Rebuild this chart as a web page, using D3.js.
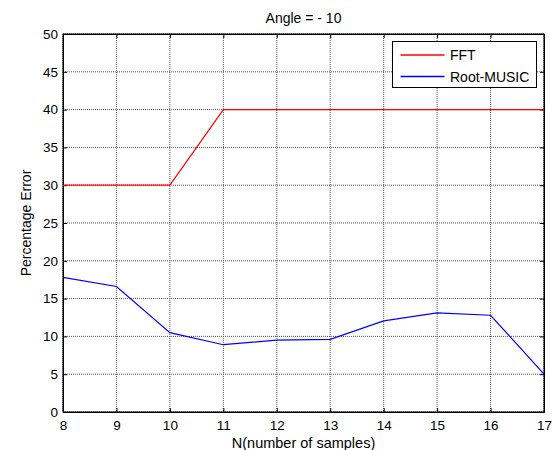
<!DOCTYPE html>
<html>
<head>
<meta charset="utf-8">
<script src="https://cdn.jsdelivr.net/npm/d3@7/dist/d3.min.js"></script>
<style>
  body { margin: 0; background: #fff; }
  text { font-family: "Liberation Sans", Arial, sans-serif; }
</style>
</head>
<body>
<svg id="chart"></svg>
<script>
(function(){

    var samples = [8, 9, 10, 11, 12, 13, 14, 15, 16, 17];
    var fftError = [30, 30, 30, 40, 40, 40, 40, 40, 40, 40];
    var musicError = [17.8, 16.6, 10.5, 8.9, 9.5, 9.6, 12.05, 13.1, 12.8, 5.0];
    var yTicks = [0, 5, 10, 15, 20, 25, 30, 35, 40, 45, 50];
    var seriesNames = ["FFT", "Root-MUSIC"];
    var seriesColors = ["#ff0000", "#0000ff"];

    var W = 552, H = 450;
    var margin = {top: 34, right: 8, bottom: 38, left: 63};
    var width = W - margin.left - margin.right;
    var height = H - margin.top - margin.bottom;

    var svg = d3.select("svg#chart")
        .attr("width", W)
        .attr("height", H);

    var g = svg.append("g")
        .attr("transform", "translate(" + margin.left + "," + margin.top + ")");

    var xScale = d3.scaleLinear().domain([8, 17]).range([0, width]);
    var yScale = d3.scaleLinear().domain([0, 50]).range([height, 0]);

    g.append("rect")
        .attr("width", width)
        .attr("height", height)
        .attr("fill", "#fff");

    // dotted grid
    g.append("g").selectAll("line")
        .data(samples)
        .enter().append("line")
        .attr("x1", d => xScale(d)).attr("x2", d => xScale(d))
        .attr("y1", 0).attr("y2", height)
        .attr("stroke", "#555").attr("stroke-dasharray", "1,1").attr("stroke-width", 1);
    g.append("g").selectAll("line")
        .data(yTicks)
        .enter().append("line")
        .attr("y1", d => yScale(d)).attr("y2", d => yScale(d))
        .attr("x1", 0).attr("x2", width)
        .attr("stroke", "#555").attr("stroke-dasharray", "1,1").attr("stroke-width", 1);

    // axes, ticks inward on all four sides
    g.append("g")
        .attr("transform", "translate(0," + height + ")")
        .call(d3.axisBottom(xScale).tickValues(samples).tickFormat(d3.format("d")).tickSizeInner(-4).tickSizeOuter(0).tickPadding(8));
    g.append("g")
        .call(d3.axisLeft(yScale).tickValues(yTicks).tickSizeInner(-4).tickSizeOuter(0).tickPadding(5));
    g.append("g")
        .call(d3.axisTop(xScale).tickValues(samples).tickFormat("").tickSizeInner(-4).tickSizeOuter(0));
    g.append("g")
        .attr("transform", "translate(" + width + ",0)")
        .call(d3.axisRight(yScale).tickValues(yTicks).tickFormat("").tickSizeInner(-4).tickSizeOuter(0));

    g.selectAll(".domain").attr("stroke", "#000");
    g.selectAll(".tick line").attr("stroke", "#000");
    g.selectAll(".tick text")
        .attr("font-size", "13.5px")
        .attr("font-family", "Liberation Sans, Arial, sans-serif")
        .attr("fill", "#000");

    g.append("rect")
        .attr("width", width)
        .attr("height", height)
        .attr("fill", "none")
        .attr("stroke", "#000");

    // series lines
    var line = d3.line()
        .x((d, i) => xScale(samples[i]))
        .y(d => yScale(d));

    [fftError, musicError].forEach(function(vals, k) {
        g.append("path")
            .datum(vals)
            .attr("d", line)
            .attr("fill", "none")
            .attr("stroke", seriesColors[k])
            .attr("stroke-width", 1.2);
    });

    // legend (box 393..537 x 42..88)
    var legend = svg.append("g")
        .attr("transform", "translate(392.5,41.5)");
    legend.append("rect")
        .attr("width", 144)
        .attr("height", 46)
        .attr("fill", "#fff")
        .attr("stroke", "#000");
    seriesNames.forEach(function(name, k) {
        var yy = 13.5 + k * 21.5;
        legend.append("line")
            .attr("x1", 8).attr("x2", 52)
            .attr("y1", yy).attr("y2", yy)
            .attr("stroke", seriesColors[k])
            .attr("stroke-width", 1.3);
        legend.append("text")
            .attr("x", 57.5)
            .attr("y", yy + 5)
            .attr("font-size", "14px")
            .attr("fill", "#000")
            .text(name);
    });

    // title and labels
    svg.append("text")
        .attr("x", margin.left + width / 2)
        .attr("y", 23)
        .attr("text-anchor", "middle")
        .attr("font-size", "14px")
        .text("Angle = - 10");

    svg.append("text")
        .attr("x", margin.left + width / 2)
        .attr("y", 448)
        .attr("text-anchor", "middle")
        .attr("font-size", "14.5px")
        .text("N(number of samples)");

    svg.append("text")
        .attr("transform", "translate(31," + (margin.top + height / 2) + ") rotate(-90)")
        .attr("text-anchor", "middle")
        .attr("font-size", "14px")
        .text("Percentage Error");

})()
</script>
</body>
</html>
